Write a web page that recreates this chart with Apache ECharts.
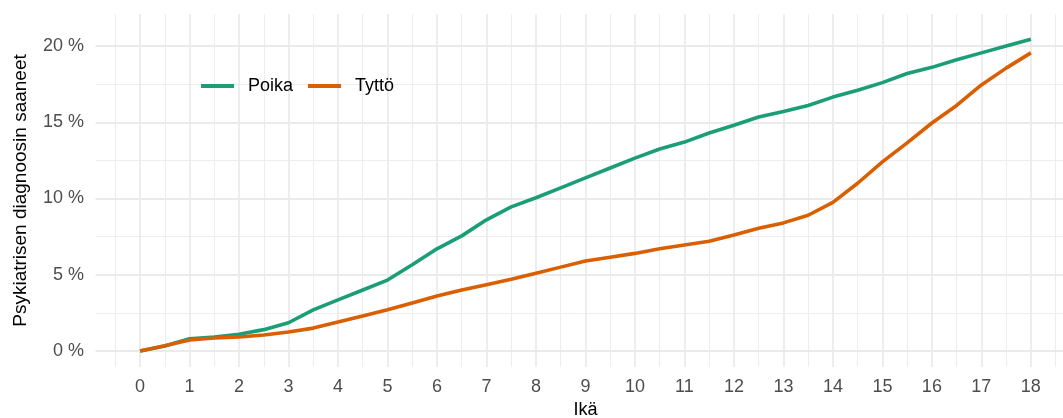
<!DOCTYPE html>
<html lang="fi">
<head>
    <meta charset="UTF-8">
    <title>Psykiatrisen diagnoosin saaneet</title>
    <script type="text/javascript" src="https://cdn.jsdelivr.net/npm/echarts@6/dist/echarts.min.js"></script>
    <style>
        html, body { margin: 0; padding: 0; background: #fff; }
    </style>
</head>
<body>
<div id="main" style="width:1063px;height:418px;"></div>
<script type="text/javascript">
    // ikä vuosina (puolen vuoden välein)
    var ika = [0, 0.5, 1, 1.5, 2, 2.5, 3, 3.5, 4, 4.5, 5, 5.5, 6, 6.5, 7, 7.5, 8, 8.5, 9,
               9.5, 10, 10.5, 11, 11.5, 12, 12.5, 13, 13.5, 14, 14.5, 15, 15.5, 16, 16.5, 17, 17.5, 18];
    // kumulatiivinen osuus, %
    var poika = [0, 0.33, 0.8, 0.92, 1.1, 1.4, 1.85, 2.7, 3.35, 4.0, 4.65, 5.65, 6.7, 7.55, 8.6, 9.45,
                 10.05, 10.7, 11.35, 12.0, 12.65, 13.25, 13.7, 14.3, 14.8, 15.35, 15.7, 16.1, 16.65,
                 17.1, 17.6, 18.2, 18.6, 19.1, 19.55, 20.0, 20.45];
    var tytto = [0, 0.35, 0.72, 0.85, 0.92, 1.05, 1.25, 1.5, 1.9, 2.3, 2.7, 3.15, 3.6, 4.0, 4.35, 4.7,
                 5.1, 5.5, 5.9, 6.15, 6.4, 6.7, 6.95, 7.2, 7.6, 8.05, 8.4, 8.9, 9.75, 11.0, 12.4,
                 13.65, 14.95, 16.1, 17.45, 18.55, 19.55];
    var sarjat = ['Poika', 'Tyttö'];
    var varit = ['#1b9e77', '#d95f02'];

    function pisteet(arvot) {
        var out = [];
        for (var i = 0; i < ika.length; i++) {
            out.push([ika[i], arvot[i]]);
        }
        return out;
    }

    var fontti = '"Liberation Sans", Arial, sans-serif';
    var myChart = echarts.init(document.getElementById('main'));
    var option = {
        animation: false,
        color: varit,
        grid: { left: 95.5, right: -12.4, top: 14, bottom: 51, containLabel: false, outerBoundsMode: 'none' },
        legend: {
            data: sarjat,
            left: 201,
            top: 77,
            padding: 0,
            icon: 'rect',
            itemWidth: 33,
            itemHeight: 4,
            itemGap: 15,
            textStyle: { fontFamily: fontti, fontSize: 18, color: '#000', padding: [0, 0, 0, 9] }
        },
        xAxis: {
            type: 'value',
            min: -0.9,
            max: 18.9,
            minInterval: 1,
            maxInterval: 1,
            splitNumber: 19,
            name: 'Ikä',
            nameLocation: 'middle',
            nameGap: 32,
            nameTextStyle: { fontFamily: fontti, fontSize: 18, color: '#000' },
            axisLine: { show: false },
            axisTick: { show: false },
            axisLabel: {
                margin: 11, fontFamily: fontti, fontSize: 18, color: '#4d4d4d',
                showMinLabel: false, showMaxLabel: false
            },
            splitLine: { show: true, showMinLine: false, showMaxLine: false, lineStyle: { color: '#ebebeb', width: 1.8 } },
            minorTick: { show: false, splitNumber: 2 },
            minorSplitLine: { show: true, lineStyle: { color: '#ebebeb', width: 0.9 } }
        },
        yAxis: {
            type: 'value',
            min: -1.05,
            max: 22.1,
            minInterval: 5,
            maxInterval: 5,
            splitNumber: 4,
            name: 'Psykiatrisen diagnoosin saaneet',
            nameLocation: 'middle',
            nameGap: 65,
            nameTextStyle: { fontFamily: fontti, fontSize: 19, color: '#000' },
            axisLine: { show: false },
            axisTick: { show: false },
            axisLabel: {
                margin: 11.5, fontFamily: fontti, fontSize: 18, color: '#4d4d4d',
                showMinLabel: false, showMaxLabel: false,
                formatter: function (v) { return v + ' %'; }
            },
            splitLine: { show: true, showMinLine: false, showMaxLine: false, lineStyle: { color: '#ebebeb', width: 1.8 } },
            minorTick: { show: false, splitNumber: 2 },
            minorSplitLine: { show: true, lineStyle: { color: '#ebebeb', width: 0.9 } }
        },
        series: [
            {
                name: sarjat[0],
                type: 'line',
                data: pisteet(poika),
                showSymbol: false,
                clip: false,
                lineStyle: { width: 3.6 }
            },
            {
                name: sarjat[1],
                type: 'line',
                data: pisteet(tytto),
                showSymbol: false,
                clip: false,
                lineStyle: { width: 3.6 }
            }
        ]
    };
    myChart.setOption(option);
</script>
</body>
</html>
